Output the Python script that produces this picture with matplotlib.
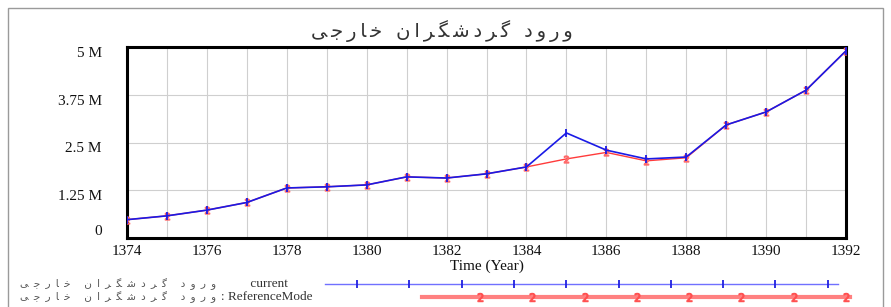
import numpy as np
import matplotlib
matplotlib.use("Agg")
import matplotlib.pyplot as plt
from matplotlib.lines import Line2D
from matplotlib.patches import Rectangle
from matplotlib.ticker import FuncFormatter

# data (millions of tourists)
years = [1374, 1375, 1376, 1377, 1378, 1379, 1380, 1381, 1382, 1383,
         1384, 1385, 1386, 1387, 1388, 1389, 1390, 1391, 1392]
current = [0.48, 0.58, 0.73, 0.93, 1.31, 1.34, 1.39, 1.60, 1.57, 1.68,
           1.86, 2.75, 2.30, 2.07, 2.12, 2.96, 3.30, 3.87, 4.90]
reference = [0.48, 0.58, 0.73, 0.93, 1.31, 1.34, 1.39, 1.60, 1.57, 1.68,
             1.86, 2.07, 2.24, 2.02, 2.10, 2.96, 3.30, 3.87, 4.90]
yticks = [0, 1.25, 2.5, 3.75, 5]
xticks = [1374, 1376, 1378, 1380, 1382, 1384, 1386, 1388, 1390, 1392]

title = "ورود گردشگران خارجی"

# simple persian shaping (matplotlib has no bidi / joining)
forms = {  # isolated, final, initial, medial
    'ا': ('\uFE8D', '\uFE8E', None, None),
    'و': ('\uFEED', '\uFEEE', None, None),
    'ر': ('\uFEAD', '\uFEAE', None, None),
    'د': ('\uFEA9', '\uFEAA', None, None),
    'گ': ('\uFB92', '\uFB93', '\uFB94', '\uFB95'),
    'ش': ('\uFEB5', '\uFEB6', '\uFEB7', '\uFEB8'),
    'ن': ('\uFEE5', '\uFEE6', '\uFEE7', '\uFEE8'),
    'خ': ('\uFEA5', '\uFEA6', '\uFEA7', '\uFEA8'),
    'ج': ('\uFE9D', '\uFE9E', '\uFE9F', '\uFEA0'),
    'ی': ('\uFBFC', '\uFBFD', '\uFBFE', '\uFBFF'),
}

def shape(s, gap=''):
    out = []
    for i, ch in enumerate(s):
        if ch not in forms:
            out.append(ch)
            continue
        prev = s[i-1] if i > 0 else None
        nxt = s[i+1] if i < len(s)-1 else None
        jp = prev in forms and forms[prev][2] is not None
        jn = nxt in forms and forms[ch][2] is not None
        iso, fin, ini, med = forms[ch]
        if jp and jn:
            out.append(med)
        elif jp:
            out.append(fin)
        elif jn:
            out.append(ini)
        else:
            out.append(iso)
    return gap.join(reversed(out))

serif = ['Liberation Serif', 'DejaVu Serif']
fa = ['DejaVu Sans']

fig = plt.figure(figsize=(8.91, 3.07), dpi=100)
fig.patch.set_facecolor('white')

# outer frame
fig.add_artist(Rectangle((8/891, -0.05), 875/891, 1 - 8/307 + 0.05,
                         transform=fig.transFigure, fill=False,
                         edgecolor='#9a9a9a', lw=1.0))

ax = fig.add_axes([127/891, 1 - 238/307, (846-127)/891, (238-47)/307])
ax.plot(years, reference, color='#ff3b3b', lw=1.0, marker='$2$', ms=5,
        mec='#ff6a6a', zorder=3)
ax.plot(years, current, color='#1a1ae6', lw=1.2, marker='|', ms=6,
        mew=1.3, zorder=4)

ax.set_xlim(1374, 1392)
ax.set_ylim(0, 5)
ax.set_xticks(xticks)
ax.set_xticks(range(1374, 1393), minor=True)
ax.set_yticks(yticks)
ax.yaxis.set_major_formatter(FuncFormatter(lambda v, p: '0' if v == 0 else ('%g M' % v)))
ax.grid(True, which='both', axis='x', color='#cfcfcf', lw=0.8)
ax.grid(True, which='major', axis='y', color='#cfcfcf', lw=0.8)
ax.tick_params(which='both', length=0)
ax.tick_params(axis='x', pad=5)
ax.tick_params(axis='y', pad=18)
for lab in ax.get_xticklabels() + ax.get_yticklabels():
    lab.set_family(serif)
    lab.set_fontsize(11)
    lab.set_color('#111111')
ylabs = ax.get_yticklabels()
for lab in ylabs[1:]:
    lab.set_va('top')
ylabs[0].set_va('bottom')

for sp in ax.spines.values():
    sp.set_linewidth(2.2)
    sp.set_color('black')

ax.set_xlabel('Time (Year)', family=serif, fontsize=11,
              labelpad=1, color='#111111')

fig.text(442/891, 1 - 31/307, shape(title, '\u2009'), family=fa, fontsize=14,
         ha='center', va='center', color='#333333')

# legend rows
rows = [(284, ' current', 247, '#7070ff', 1.0, '|', np.arange(357, 840, 52.3), 325, 838),
        (297, ': ReferenceMode', 221, '#ff8080', 3.0, '$2$', np.arange(480, 850, 52.3), 422, 850)]
for y, tag, tx, col, lw, mk, mxs, x0, x1 in rows:
    yf = 1 - y/307
    fig.text(20/891, yf, shape(title, '\u2002'), family=fa, fontsize=7.5, ha='left',
             va='center', color='#555555')
    fig.text(tx/891, yf, tag, family=serif, fontsize=9.5,
             ha='left', va='center', color='#333333')
    fig.add_artist(Line2D([x0/891, x1/891], [yf, yf], transform=fig.transFigure,
                          color=col, lw=lw))
    fig.add_artist(Line2D(mxs/891, np.full(len(mxs), yf), transform=fig.transFigure,
                          color='none', marker=mk, ms=6, mec='#2020e0' if mk == '|' else '#ff5050',
                          mew=1.3 if mk == '|' else 0.8))

fig.savefig('out.png', dpi=100)
